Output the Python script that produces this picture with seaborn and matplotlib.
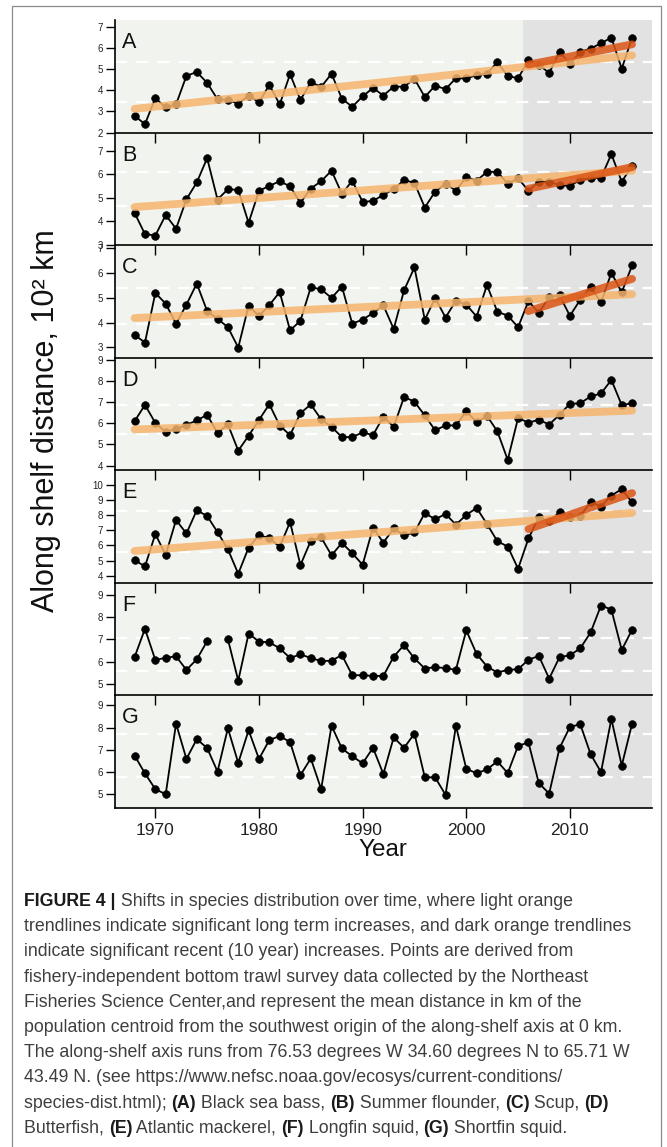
import numpy as np
import pandas as pd
import matplotlib
matplotlib.use("Agg")
import matplotlib.pyplot as plt
from matplotlib.patches import Rectangle
import seaborn as sns

# ---------------- data ----------------
years = np.arange(1968, 2017)
panel_letters = ["A", "B", "C", "D", "E", "F", "G"]

black_sea_bass = [2.79, 2.40, 3.63, 3.19, 3.33, 4.68, 4.86, 4.35, 3.57, 3.54,
                  3.37, 3.75, 3.43, 4.25, 3.33, 4.76, 3.54, 4.38, 4.16, 4.78,
                  3.60, 3.22, 3.71, 4.11, 3.75, 4.17, 4.17, 4.54, 3.68, 4.22,
                  4.05, 4.57, 4.56, 4.71, 4.79, 5.33, 4.67, 4.57, 5.41, 5.21,
                  4.81, 5.83, 5.24, 5.81, 5.97, 6.22, 6.49, 5.02, 6.48]
summer_flounder = [4.36, 3.46, 3.40, 4.27, 3.69, 4.94, 5.66, 6.69, 4.93, 5.37,
                   5.34, 3.94, 5.30, 5.51, 5.71, 5.49, 4.79, 5.40, 5.71, 6.16,
                   5.17, 5.73, 4.83, 4.87, 5.13, 5.37, 5.76, 5.64, 4.59, 5.27,
                   5.60, 5.31, 5.89, 5.73, 6.11, 6.11, 5.60, 5.83, 5.31, 5.69,
                   5.69, 5.54, 5.51, 5.77, 5.83, 5.86, 6.86, 5.69, 6.37]
scup = [3.50, 3.19, 5.19, 4.76, 3.95, 4.72, 5.57, 4.46, 4.15, 3.81,
        2.99, 4.68, 4.26, 4.70, 5.23, 3.68, 4.07, 5.42, 5.34, 4.99,
        5.45, 3.95, 4.12, 4.38, 4.69, 3.74, 5.30, 6.22, 4.11, 4.99,
        4.20, 4.88, 4.72, 4.24, 5.51, 4.43, 4.28, 3.81, 4.86, 4.39,
        5.03, 5.09, 4.27, 4.92, 5.43, 4.81, 6.00, 5.22, 6.30]
butterfish = [6.10, 6.87, 6.02, 5.59, 5.73, 5.92, 6.14, 6.40, 5.54, 5.95,
              4.71, 5.41, 6.16, 6.90, 5.89, 5.44, 6.48, 6.89, 6.19, 5.83,
              5.35, 5.35, 5.57, 5.44, 6.32, 5.83, 7.25, 7.02, 6.37, 5.67,
              5.90, 5.90, 6.57, 6.05, 6.35, 5.62, 4.27, 6.25, 6.03, 6.17,
              5.94, 6.41, 6.92, 6.95, 7.27, 7.41, 8.05, 6.86, 6.95]
atlantic_mackerel = [5.04, 4.62, 6.75, 5.38, 7.68, 6.79, 8.32, 7.94, 6.88, 5.75,
                     4.14, 5.86, 6.68, 6.48, 5.91, 7.54, 4.71, 6.31, 6.53, 5.35,
                     6.17, 5.49, 4.73, 7.17, 6.19, 7.12, 6.66, 6.86, 8.14, 7.72,
                     8.08, 7.37, 8.01, 8.47, 7.41, 6.28, 5.93, 4.47, 6.46, 7.85,
                     7.61, 8.19, 7.88, 7.92, 8.87, 8.56, 9.29, 9.71, 8.83]
longfin_squid = [6.21, 7.47, 6.08, 6.18, 6.24, 5.64, 6.11, 6.92, np.nan, 7.01,
                 5.16, 7.26, 6.90, 6.87, 6.60, 6.17, 6.33, 6.17, 6.03, 6.05,
                 6.30, 5.40, 5.40, 5.37, 5.37, 6.23, 6.75, 6.15, 5.70, 5.76,
                 5.72, 5.64, 7.40, 6.35, 5.79, 5.52, 5.64, 5.67, 6.09, 6.26,
                 5.25, 6.21, 6.29, 6.60, 7.31, 8.51, 8.33, 6.53, 7.43]
shortfin_squid = [6.74, 5.94, 5.23, 5.00, 8.18, 6.59, 7.48, 7.08, 6.02, 7.97,
                  6.41, 7.88, 6.59, 7.44, 7.62, 7.35, 5.86, 6.61, 5.23, 8.09,
                  7.06, 6.71, 6.39, 7.09, 5.91, 7.56, 7.09, 7.73, 5.76, 5.76,
                  4.97, 8.08, 6.15, 5.94, 6.12, 6.48, 5.95, 7.18, 7.33, 5.50,
                  5.03, 7.08, 8.03, 8.15, 6.80, 6.00, 8.39, 6.29, 8.18]
series = [black_sea_bass, summer_flounder, scup, butterfish,
          atlantic_mackerel, longfin_squid, shortfin_squid]

dashed_upper = [5.33, 6.10, 5.38, 6.87, 8.25, 7.04, 7.71]
dashed_lower = [3.46, 4.64, 3.93, 5.48, 5.55, 5.57, 5.76]

long_trend_years = [1968, 2016]
long_trend_values = [(3.12, 5.65), (4.61, 6.16), (4.18, 5.14), (5.71, 6.60),
                     (5.64, 8.14), None, None]
recent_trend_years = [2006, 2016]
recent_trend_values = [(5.21, 6.17), (5.39, 6.31), (4.46, 5.76), None,
                       (7.08, 9.45), None, None]

y_limits = [(2.0, 7.32), (2.99, 7.78), (2.58, 7.12), (3.78, 9.1),
            (3.54, 10.95), (4.50, 9.52), (4.38, 9.45)]
y_ticks = [list(range(2, 8)), list(range(3, 8)), list(range(3, 8)),
           list(range(4, 10)), list(range(4, 11)), list(range(5, 10)),
           list(range(5, 10))]
x_ticks = [1970, 1980, 1990, 2000, 2010]
x_limits = (1966.08, 2017.92)
recent_start = 2005.5

y_label = "Along shelf distance, 10² km"
x_label = "Year"

caption_lines = [
    [("FIGURE 4 |", True), (" Shifts in species distribution over time, where light orange", False)],
    [("trendlines indicate significant long term increases, and dark orange trendlines", False)],
    [("indicate significant recent (10 year) increases. Points are derived from", False)],
    [("fishery-independent bottom trawl survey data collected by the Northeast", False)],
    [("Fisheries Science Center,and represent the mean distance in km of the", False)],
    [("population centroid from the southwest origin of the along-shelf axis at 0 km.", False)],
    [("The along-shelf axis runs from 76.53 degrees W 34.60 degrees N to 65.71 W", False)],
    [("43.49 N. (see https://www.nefsc.noaa.gov/ecosys/current-conditions/", False)],
    [("species-dist.html); ", False), ("(A)", True), (" Black sea bass, ", False), ("(B)", True),
     (" Summer flounder, ", False), ("(C)", True), (" Scup, ", False), ("(D)", True)],
    [("Butterfish, ", False), ("(E)", True), (" Atlantic mackerel, ", False), ("(F)", True),
     (" Longfin squid, ", False), ("(G)", True), (" Shortfin squid.", False)],
]

# ---------------- style ----------------
sns.set_theme(style="ticks")
FONT = "Liberation Sans"
plt.rcParams["font.family"] = [FONT, "DejaVu Sans"]

W, H = 667, 1147
fig = plt.figure(figsize=(W / 100, H / 100), dpi=100)
fig.patch.set_facecolor("white")

left_px, right_px = 114.7, 652.0
top_px, bot_px = 20.0, 808.0
ph = (bot_px - top_px) / 7
aw = right_px - left_px

LIGHT = "#f6b46c"
DARK = "#db5516"

axes = []
for i in range(7):
    t = top_px + i * ph
    ax = fig.add_axes([left_px / W, 1 - (t + ph) / H, aw / W, ph / H])
    ax.set_zorder(20 - i)
    ax.set_facecolor("#f1f3ee")
    ax.axvspan(recent_start, x_limits[1] + 5, color="#e2e2e2", lw=0, zorder=0)

    for lvl in (dashed_upper[i], dashed_lower[i]):
        ax.axhline(lvl, color="white", lw=1.6, dashes=(5.5, 4.0), zorder=1)

    vals = np.array(series[i], dtype=float)
    df = pd.DataFrame({"year": years, "value": vals})
    df["seg"] = np.cumsum(np.isnan(vals))
    df = df.dropna()
    sns.lineplot(data=df, x="year", y="value", units="seg", estimator=None,
                 color="black", linewidth=1.3, marker="o", markersize=5.6,
                 markeredgecolor="black", markeredgewidth=0.4, ax=ax,
                 legend=False, zorder=3)

    if long_trend_values[i] is not None:
        tdf = pd.DataFrame({"year": long_trend_years, "value": list(long_trend_values[i])})
        sns.lineplot(data=tdf, x="year", y="value", color=LIGHT, alpha=0.85,
                     linewidth=5.6, solid_capstyle="round", ax=ax, zorder=4)
    if recent_trend_values[i] is not None:
        rdf = pd.DataFrame({"year": recent_trend_years, "value": list(recent_trend_values[i])})
        sns.lineplot(data=rdf, x="year", y="value", color=DARK, alpha=0.85,
                     linewidth=5.6, solid_capstyle="round", ax=ax, zorder=5)

    ax.set_xlim(*x_limits)
    ax.set_ylim(*y_limits[i])
    ax.set_yticks(y_ticks[i])
    ax.set_xticks(x_ticks)
    ax.set_xlabel("")
    ax.set_ylabel("")
    for side in ("top", "right"):
        ax.spines[side].set_visible(False)
    for side in ("left", "bottom"):
        ax.spines[side].set_color("black")
        ax.spines[side].set_linewidth(1.2)
    ax.tick_params(axis="y", direction="out", length=6.5, width=1.0,
                   labelsize=7, pad=2, color="black", labelcolor="#222222")
    ax.tick_params(axis="x", direction="out", length=7, width=1.0,
                   labelsize=12.5, pad=3.5, color="black", labelcolor="#222222")
    if i < 6:
        ax.tick_params(axis="x", labelbottom=False)
    ax.text(7.5 / aw, 1 - 28.0 / ph, panel_letters[i], transform=ax.transAxes,
            fontsize=15.5, ha="left", va="baseline", color="#111111", zorder=6)
    axes.append(ax)

fig.text(383 / W, 1 - 850 / H, x_label, ha="center", va="center",
         fontsize=17.5, color="#111111")
fig.text(46 / W, 1 - 421 / H, y_label, ha="center", va="center",
         rotation=90, fontsize=22, color="#111111")

# border of the figure panel
fig.add_artist(Rectangle((12 / W, 1 - 1170 / H), (661 - 12) / W, (1170 - 6) / H,
                         transform=fig.transFigure, fill=False,
                         edgecolor="#8c8c8c", lw=0.9))

# ---------------- caption ----------------
renderer = fig.canvas.get_renderer()


def text_w(s, size, bold):
    t = fig.text(0, 0, s + "|", fontsize=size,
                 fontweight="bold" if bold else "normal")
    w1 = t.get_window_extent(renderer).width
    t.set_text("|")
    w0 = t.get_window_extent(renderer).width
    t.remove()
    return w1 - w0


cap_size = 10 * 613.0 / text_w(caption_lines[1][0][0], 10, False)
line0 = 906.0
spacing = 25.2
for li, line in enumerate(caption_lines):
    x = 24.0
    yb = line0 + li * spacing
    for seg, bold in line:
        fig.text(x / W, 1 - yb / H, seg, fontsize=cap_size, va="baseline",
                 ha="left", fontweight="bold" if bold else "normal",
                 color="#1a1a1a" if bold else "#3e3e3e")
        x += text_w(seg, cap_size, bold)

fig.savefig("out.png", dpi=100)
